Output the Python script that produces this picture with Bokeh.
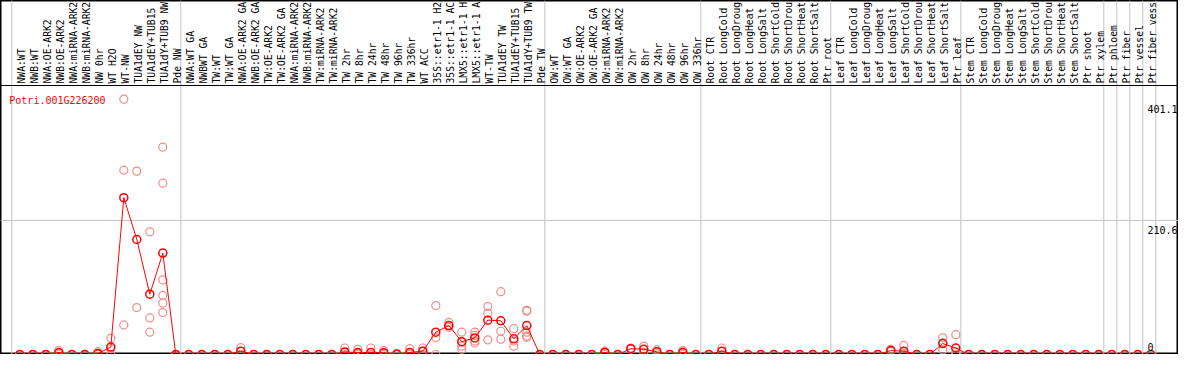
import numpy as np
from bokeh.plotting import figure
from bokeh.models import Range1d, Span
from bokeh.core.properties import value
from bokeh.embed import file_html
from bokeh.resources import INLINE

# ---------------- data ----------------
gene = "Potri.001G226200"

g_nw = ["NWA:WT", "NWB:WT", "NWA:OE-ARK2", "NWB:OE-ARK2", "NWA:miRNA-ARK2",
        "NWB:miRNA-ARK2", "NW 0hr", "WT H2O", "WT-NW", "TUA1dEY NW",
        "TUA1dEY+TUB15 NW", "TUA1dY+TUB9 NW", "Pde NW"]
g_tw = ["NWA:WT GA", "NWBWT GA", "TW:WT", "TW:WT GA", "NWA:OE-ARK2 GA",
        "NWB:OE-ARK2 GA", "TW:OE-ARK2", "TW:OE-ARK2 GA", "NWA:miRNA-ARK2 GA",
        "NWB:miRNA-ARK2 GA", "TW:miRNA-ARK2", "TW:miRNA-ARK2 GA", "TW 2hr",
        "TW 8hr", "TW 24hr", "TW 48hr", "TW 96hr", "TW 336hr", "WT ACC",
        "35S::etr1-1 H2O", "35S::etr1-1 ACC", "LMX5::etr1-1 H2O",
        "LMX5::etr1-1 ACC", "WT-TW", "TUA1dEY TW", "TUA1dEY+TUB15 TW",
        "TUA1dY+TUB9 TW", "Pde TW"]
g_ow = ["OW:WT", "OW:WT GA", "OW:OE-ARK2", "OW:OE-ARK2 GA", "OW:miRNA-ARK2",
        "OW:miRNA-ARK2 GA", "OW 2hr", "OW 8hr", "OW 24hr", "OW 48hr",
        "OW 96hr", "OW 336hr"]
g_root = ["Root CTR", "Root LongCold", "Root LongDrought", "Root LongHeat",
          "Root LongSalt", "Root ShortCold", "Root ShortDrought",
          "Root ShortHeat", "Root ShortSalt", "Ptr root"]
g_leaf = ["Leaf CTR", "Leaf LongCold", "Leaf LongDrought", "Leaf LongHeat",
          "Leaf LongSalt", "Leaf ShortCold", "Leaf ShortDrought",
          "Leaf ShortHeat", "Leaf ShortSalt", "Ptr leaf"]
g_stem = ["Stem CTR", "Stem LongCold", "Stem LongDrought", "Stem LongHeat",
          "Stem LongSalt", "Stem ShortCold", "Stem ShortDrought",
          "Stem ShortHeat", "Stem ShortSalt", "Ptr shoot", "Ptr xylem"]
g_phloem = ["Ptr phloem"]
g_fiber = ["Ptr fiber"]
g_vessel = ["Ptr vessel"]
g_fvessel = ["Ptr fiber vessel"]

groups = [g_nw, g_tw, g_ow, g_root, g_leaf, g_stem,
          g_phloem, g_fiber, g_vessel, g_fvessel]

mean_nw = [0, 0, 0, 3, 0, 0, 1.5, 11.6, 246.4, 180.7, 94.7, 159.3, 0]
mean_tw = [0, 0, 0, 0, 5.2, 0, 0, 0, 0, 0, 0, 0, 4, 3, 3.2, 2.7, 0.5, 3.2,
           5.2, 35, 45.5, 20.1, 26.1, 54, 53, 24.6, 45.5, 0]
mean_ow = [0, 0, 0, 0, 3.2, 0, 9.2, 8.2, 4.2, 0, 3.2, 0]
mean_root = [0, 5.2, 0, 0, 0, 0, 0, 0, 0, 0]
mean_leaf = [0, 0, 0, 0, 6.2, 5.2, 0, 0, 17.2, 10.2]
mean_stem = [0, 0, 0, 0, 0, 0, 0, 0, 0, 0, 0]
mean_ptr = [0, 0, 0, 0]

reps_nw = [[0, 0, 0], [0, 0, 0], [0, 0, 0], [6.7, 2.3, 0], [0, 0, 0],
           [0, 0, 0], [4.5, 0, 0], [25.6, 9.2, 0], [401.1, 289.6, 46.5],
           [288.1, 73.8], [192.7, 57.4, 35.0],
           [325.9, 269.2, 117.1, 92.8, 80.8, 65.9], [0, 0, 0]]
reps_tw = [[0, 0], [0, 0], [0, 0], [0, 0], [10.7, 4.9, 0], [0, 0], [0, 0],
           [0, 0], [0, 0], [0, 0], [0, 0], [0, 0], [10.2, 3.2, 0],
           [8.2, 1, 0], [10.2, 0, 0], [6.2, 2, 0], [1.5, 0, 0],
           [9.2, 0.5, 0], [10.2, 5.2, 0], [76.8, 26.6, 0],
           [50.4, 45.5, 42.7], [35, 13.1, 8.2, 20], [35, 21.1, 18.1, 30],
           [75.3, 64.9, 23.1], [98.7, 36.5, 24.1], [40.6, 21.1, 13.1],
           [69.4, 68, 35, 29, 27], [0, 0]]
reps_ow = [[0, 0], [0, 0], [0, 0], [0, 0], [5.2, 3, 0], [0, 0],
           [10.2, 9, 8.4], [13.2, 8, 3.4], [7.2, 4, 1.4], [0, 0],
           [6.2, 3, 0], [0, 0]]
reps_root = [[0, 0], [10.2, 5, 0.4], [0, 0], [0, 0], [0, 0], [0, 0],
             [0, 0], [0, 0], [0, 0], [0, 0]]
reps_leaf = [[0, 0], [0, 0], [0, 0], [0, 0], [8, 6, 4.6], [14.2, 1.4, 0],
             [0, 0], [0, 0], [26.2, 18.2, 7.2], [31.1, 4.2, 0]]
reps_stem = [[0, 0]] * 11
reps_ptr = [[0, 0]] * 4

y_ticks = [0, 210.6, 401.1]
y_tick_labels = ["0", "210.6", "401.1"]

# ---------------- assemble ----------------
labels = [s for g in groups for s in g]
shown = [s[:14] for s in labels]          # header is only 14 characters tall
means = mean_nw + mean_tw + mean_ow + mean_root + mean_leaf + mean_stem + mean_ptr
reps = reps_nw + reps_tw + reps_ow + reps_root + reps_leaf + reps_stem + reps_ptr
idx = list(range(len(labels)))
rx = [i for i, r in zip(idx, reps) for _ in r]
ry = [v for r in reps for v in r]
bounds = np.cumsum([0] + [len(g) for g in groups])

# ---------------- layout (pixels) ----------------
W, H = 1178, 354
PITCH = 13.0          # px per column
X0 = 19.3             # px of first column centre
HEAD = 85             # px of header rule
TOP_PX = 98.7         # px where the top tick sits
K = (H - TOP_PX) / y_ticks[-1]   # px per expression unit


def xv(px):
    return (px - X0) / PITCH


def yv(py):
    return (H - py) / K


FONT = value("DejaVu Sans Mono")

p = figure(width=W, height=H, x_range=Range1d(xv(0), xv(W)),
           y_range=Range1d(yv(H), yv(0)), output_backend="svg",
           toolbar_location=None, x_axis_location=None, y_axis_location=None,
           min_border=0, outline_line_color="black", outline_line_width=2,
           background_fill_color="white", border_fill_color="white")
p.grid.grid_line_color = None

# group separators
for b in bounds:
    p.add_layout(Span(location=b - 0.615, dimension="height",
                      line_color="#c4c4c4", line_width=1, level="underlay"))
# horizontal grid at mid tick
for t in y_ticks[1:-1]:
    p.add_layout(Span(location=t, dimension="width", line_color="#c4c4c4",
                      line_width=1, level="underlay"))
# header separator line
p.add_layout(Span(location=yv(HEAD), dimension="width", line_color="black",
                  line_width=1))

# replicates
p.scatter(rx, ry, marker="circle", size=8, fill_color=None,
          line_color="#f08c8c", line_width=1.2)
# mean line and points
p.line(idx, means, line_color="red", line_width=1)
p.scatter(idx, means, marker="circle", size=8, fill_color=None,
          line_color="red", line_width=1.5)

# column labels (vertical)
p.text(x=[i + 1.7 / PITCH for i in idx], y=[yv(HEAD - 2)] * len(idx),
       text=shown, angle=np.pi / 2, text_align="left",
       text_baseline="alphabetic", text_font=FONT,
       text_font_size=value("9.7px"), text_color="black")

# gene title
p.text(x=[xv(8.8)], y=[yv(100.3)], text=[gene], text_align="left",
       text_baseline="alphabetic", text_font=FONT,
       text_font_size=value("10px"), text_color="red")

# y tick labels
offs = [(-7.5 if t == 0 else 9.5) for t in y_ticks]
p.text(x=[xv(1147)] * len(y_ticks),
       y=[t - o / K for t, o in zip(y_ticks, offs)],
       text=y_tick_labels, text_align="left", text_baseline="alphabetic",
       text_font=FONT, text_font_size=value("10px"), text_color="black")

open("out.html", "w").write(file_html(p, INLINE, title=gene))
